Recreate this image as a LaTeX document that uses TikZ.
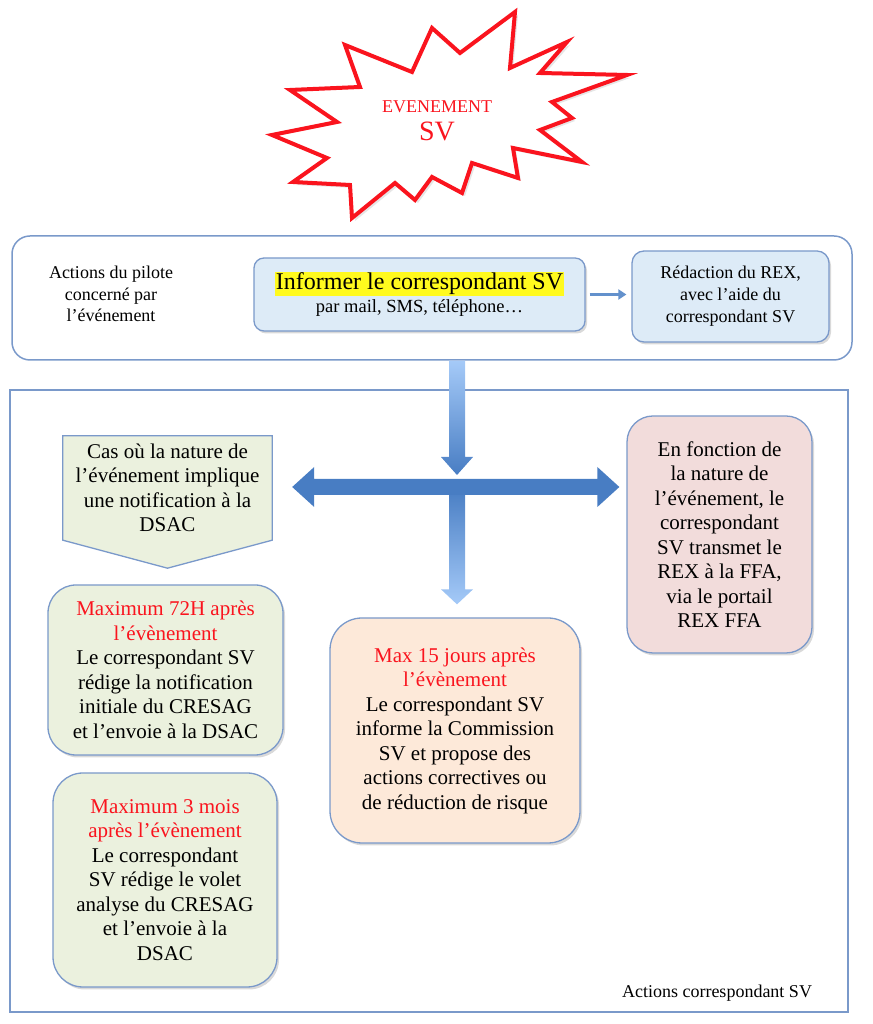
\documentclass[tikz,border=0pt]{standalone}
\usepackage{fontspec}
\setmainfont{Liberation Serif}
\usetikzlibrary{calc, positioning, shadows, arrows.meta}
\definecolor{svframe}{RGB}{122,153,202}
\definecolor{svblue}{RGB}{221,235,247}
\definecolor{svgreen}{RGB}{235,241,222}
\definecolor{svorange}{RGB}{253,233,217}
\definecolor{svpink}{RGB}{242,220,219}
\definecolor{svdark}{RGB}{72,125,195}
\definecolor{svlight}{RGB}{165,202,248}
\definecolor{svred}{RGB}{250,20,30}
\definecolor{svyellow}{RGB}{255,250,30}
\newcommand{\delai}[1]{\textcolor{svred}{#1}}

\begin{document}
\begin{tikzpicture}[x=1pt, y=1pt,
        frame/.style={draw=svframe, line width=1.5pt},
        box/.style={draw=svframe, line width=1.3pt, align=center, inner sep=0pt,
            drop shadow={shadow xshift=2pt, shadow yshift=-2.5pt, opacity=.3}},
        body/.style={font=\fontsize{21}{24.5}\selectfont},
        petit/.style={font=\fontsize{18}{22}\selectfont},
        starline/.style={draw=svred, line width=4pt, fill=white, line join=miter,
            drop shadow={shadow xshift=3pt, shadow yshift=-3pt, opacity=.2}}
    ]
    \useasboundingbox (0,0) rectangle (872,1024);

    % evenement
    \draw[starline, shift={(443,906)}] plot coordinates {
        (72,106) (67,50) (124,76) (97,45) (184,43) (109,16) (129,0)
        (97,-12) (139,-44) (70,-30) (75,-60) (29,-45) (19,-75) (-11,-59)
        (-28,-82) (-48,-65) (-91,-100) (-93,-67) (-150,-64) (-116,-40) (-171,-17)
        (-106,-4) (-153,28) (-83,31) (-98,73) (-31,46) (-11,90) (17,65)} -- cycle;
    \node[align=center, text=svred, font=\fontsize{18}{28}\selectfont] (evt) at (437,903)
        {EVENEMENT\\{\fontsize{28}{30}\selectfont SV}};

    % cadres
    \node[frame, minimum width=838, minimum height=622] (cadre) at (429,323) {};
    \node[frame, rounded corners=18, minimum width=840, minimum height=124] (pilot) at (432,726) {};

    % actions du pilote
    \node[align=center, font=\fontsize{18}{21.5}\selectfont] (acteur) at (111,730)
        {Actions du pilote\\concerné par\\l’événement};
    \node[box, fill=svblue, rounded corners=10, minimum width=331, minimum height=73,
        font=\fontsize{18.5}{23}\selectfont] (inform) at (419.5,729.5)
        {{\fboxsep=1pt\colorbox{svyellow}{\fontsize{24}{26}\selectfont Informer le correspondant SV}}\\
         par mail, SMS, téléphone…};
    \node[box, fill=svblue, rounded corners=12, minimum width=197, minimum height=91, petit]
        (rex) at (730.5,727.5) {Rédaction du REX,\\avec l’aide du\\correspondant SV};
    \draw[-{Triangle[length=8pt, width=10pt]}, svdark!85, line width=2.5pt,
        shorten <=4pt, shorten >=5pt] (inform.east) -- (inform.east -| rex.west);

    % actions correspondant
    \node[minimum width=209, minimum height=104, inner sep=0pt] (cas) at (167.5,536) {};
    \draw[draw=svframe, line width=1.3pt, fill=svgreen]
        (cas.north west) -- (cas.north east) -- (cas.south east)
        -- ($(cas.south)+(0,-28)$) -- (cas.south west) -- cycle;
    \node[align=center, body] (castxt) at (cas)
        {Cas où la nature de\\l’événement implique\\une notification à la\\DSAC};

    \node[box, fill=svgreen, rounded corners=28, minimum width=235, minimum height=170, body]
        (vert1) at (165.5,354)
        {\delai{Maximum 72H après}\\\delai{l’évènement}\\Le correspondant SV\\rédige la notification\\initiale du CRESAG\\et l’envoie à la DSAC};
    \node[box, fill=svgreen, rounded corners=30, minimum width=224, minimum height=214, body]
        (vert2) at (165,144)
        {\delai{Maximum 3 mois}\\\delai{après l’évènement}\\Le correspondant\\SV rédige le volet\\analyse du CRESAG\\et l’envoie à la\\DSAC};
    \node[box, fill=svorange, rounded corners=32, minimum width=250, minimum height=225, body]
        (orange) at (455,293.5)
        {\delai{Max 15 jours après}\\\delai{l’évènement}\\Le correspondant SV\\informe la Commission\\SV et propose des\\actions correctives ou\\de réduction de risque};
    \node[box, fill=svpink, rounded corners=26, minimum width=185, minimum height=237, body]
        (rose) at (719.5,489.5)
        {En fonction de\\la nature de\\l’événement, le\\correspondant\\SV transmet le\\REX à la FFA,\\via le portail\\REX FFA};
    \node[petit] (bilan) at (717,31) {Actions correspondant SV};

    % fleches
    \coordinate (hub) at (457,537);
    \shade[top color=svlight, bottom color=svdark]
        ($(pilot.south -| hub)+(-8,0)$) -- ($(hub)+(-8,30)$) -- ++(-8,0) -- ($(hub)+(0,12)$)
        -- ($(hub)+(16,30)$) -- ++(-8,0) -- ($(pilot.south -| hub)+(8,0)$) -- cycle;
    \shade[top color=svdark, bottom color=svlight]
        ($(hub)+(-8,0)$) -- ($(orange.north -| hub)+(-8,28)$) -- ++(-8,0)
        -- ($(orange.north -| hub)+(0,13)$) -- ($(orange.north -| hub)+(16,28)$) -- ++(-8,0)
        -- ($(hub)+(8,0)$) -- cycle;
    \fill[svdark]
        ($(cas.east |- hub)+(20,0)$) coordinate (pg) -- ++(22,20) -- ++(0,-12)
        -- ($(rose.west |- hub)+(-29,8)$) -- ++(0,12) -- ++(22,-20) -- ++(-22,-20) -- ++(0,12)
        -- ($(pg)+(22,-8)$) -- ++(0,-12) -- cycle;
\end{tikzpicture}
\end{document}
